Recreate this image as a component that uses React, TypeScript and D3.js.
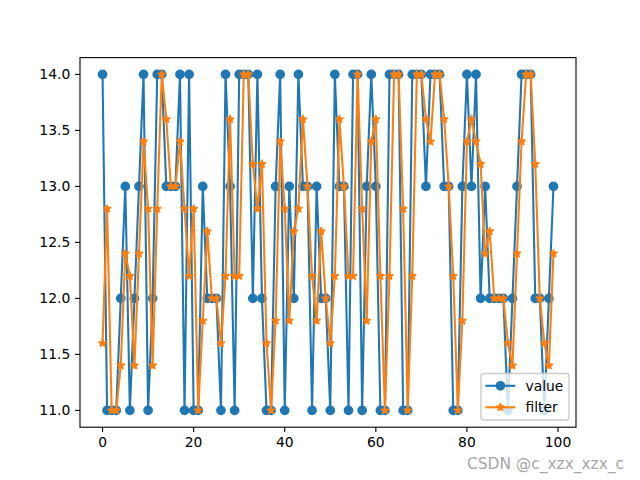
import React, { useEffect, useRef } from "react";
import * as d3 from "d3";

const values: number[] = [
  14, 11, 11, 11, 12, 13, 11, 12, 13, 14,
  11, 12, 14, 14, 13, 13, 13, 14, 11, 14,
  11, 11, 13, 12, 12, 12, 11, 14, 13, 11,
  14, 14, 14, 12, 14, 12, 11, 11, 13, 14,
  11, 13, 12, 14, 13, 13, 11, 13, 12, 12,
  11, 14, 13, 13, 11, 14, 14, 11, 13, 14,
  13, 11, 11, 14, 14, 14, 11, 11, 14, 14,
  14, 13, 14, 14, 14, 13, 13, 11, 11, 13,
  14, 13, 14, 12, 13, 12, 12, 12, 12, 11,
  12, 13, 14, 14, 14, 12, 12, 11, 12, 13,
];

const filterValues: number[] = [
  11.6, 12.8, 11.0, 11.0, 11.4, 12.4, 12.2, 11.4, 12.4, 13.4,
  12.8, 11.4, 12.8, 14.0, 13.6, 13.0, 13.0, 13.4, 12.8, 12.2,
  12.8, 11.0, 11.8, 12.6, 12.0, 12.0, 11.6, 12.2, 13.6, 12.2,
  12.2, 14.0, 14.0, 13.2, 12.8, 13.2, 11.6, 11.0, 11.8, 13.4,
  12.8, 11.8, 12.6, 12.8, 13.6, 13.0, 12.2, 11.8, 12.6, 12.0,
  11.6, 12.2, 13.6, 13.0, 12.2, 12.2, 14.0, 12.8, 11.8, 13.4,
  13.6, 12.2, 11.0, 12.2, 14.0, 14.0, 12.8, 11.0, 12.2, 14.0,
  14.0, 13.6, 13.4, 14.0, 14.0, 13.6, 13.0, 12.2, 11.0, 11.8,
  13.4, 13.6, 13.4, 13.2, 12.4, 12.6, 12.0, 12.0, 12.0, 11.6,
  11.4, 12.4, 13.4, 14.0, 14.0, 13.2, 12.0, 11.6, 11.4, 12.4,
];

const xTicks: number[] = [0, 20, 40, 60, 80, 100];
const yTicks: number[] = [11.0, 11.5, 12.0, 12.5, 13.0, 13.5, 14.0];
const seriesNames: string[] = ["value", "filter"];
const watermark = "CSDN @c_xzx_xzx_c";

const W = 640;
const H = 480;
const PT = 100 / 72;

export default function App() {
  const ref = useRef<SVGSVGElement>(null);

  useEffect(() => {
    const svg = d3.select(ref.current);
    svg.selectAll("*").remove();

    const left = 80, right = 576, top = 57.6, bottom = 427.2;
    const n = values.length;
    const xPad = (n - 1) * 0.05;
    const allY = values.concat(filterValues);
    const yMin = d3.min(allY)!, yMax = d3.max(allY)!;
    const yPad = (yMax - yMin) * 0.05;
    const x = d3.scaleLinear().domain([0 - xPad, n - 1 + xPad]).range([left, right]);
    const y = d3.scaleLinear().domain([yMin - yPad, yMax + yPad]).range([bottom, top]);

    svg.append("rect").attr("x", 0).attr("y", 0).attr("width", W).attr("height", H).attr("fill", "white");

    const font = "DejaVu Sans, sans-serif";
    const fs = 10 * PT;
    const tickLen = 3.5 * PT;

    const clip = svg.append("clipPath").attr("id", "plotclip");
    clip.append("rect").attr("x", left).attr("y", top).attr("width", right - left).attr("height", bottom - top);

    const plot = svg.append("g").attr("clip-path", "url(#plotclip)");

    const colors = ["#1f77b4", "#ff7f0e"];
    const data = [values, filterValues];
    const lw = 1.5 * PT;
    const r = 3 * PT;

    const starPath = (R: number) => {
      const pts: string[] = [];
      const ri = R * 0.381966;
      for (let k = 0; k < 10; k++) {
        const rad = k % 2 === 0 ? R : ri;
        const a = (k * Math.PI) / 5 - Math.PI / 2;
        pts.push(`${(rad * Math.cos(a)).toFixed(3)},${(rad * Math.sin(a)).toFixed(3)}`);
      }
      return "M" + pts.join("L") + "Z";
    };

    const line = d3.line<number>().x((_, i) => x(i)).y((d) => y(d));

    data.forEach((ds, si) => {
      plot.append("path").attr("d", line(ds)!).attr("fill", "none")
        .attr("stroke", colors[si]).attr("stroke-width", lw).attr("stroke-linejoin", "round").attr("stroke-linecap", "square");
      if (si === 0) {
        plot.selectAll(null).data(ds).enter().append("circle")
          .attr("cx", (_, i) => x(i)).attr("cy", (d) => y(d)).attr("r", r)
          .attr("fill", colors[si]).attr("stroke", colors[si]).attr("stroke-width", PT);
      } else {
        const sp = starPath(r);
        plot.selectAll(null).data(ds).enter().append("path")
          .attr("d", sp).attr("transform", (d, i) => `translate(${x(i)},${y(d)})`)
          .attr("fill", colors[si]).attr("stroke", colors[si]).attr("stroke-width", PT).attr("stroke-linejoin", "bevel");
      }
    });

    // axes frame
    svg.append("rect").attr("x", left).attr("y", top).attr("width", right - left).attr("height", bottom - top)
      .attr("fill", "none").attr("stroke", "black").attr("stroke-width", 0.8 * PT);

    // x ticks
    const xg = svg.append("g");
    xTicks.forEach((t) => {
      xg.append("line").attr("x1", x(t)).attr("x2", x(t)).attr("y1", bottom).attr("y2", bottom + tickLen)
        .attr("stroke", "black").attr("stroke-width", 0.8 * PT);
      xg.append("text").attr("x", x(t)).attr("y", bottom + tickLen + 3.5 * PT + fs * 0.76)
        .attr("text-anchor", "middle").attr("font-family", font).attr("font-size", fs).attr("fill", "black").text(String(t));
    });
    const yg = svg.append("g");
    yTicks.forEach((t) => {
      yg.append("line").attr("x1", left - tickLen).attr("x2", left).attr("y1", y(t)).attr("y2", y(t))
        .attr("stroke", "black").attr("stroke-width", 0.8 * PT);
      yg.append("text").attr("x", left - tickLen - 3.5 * PT).attr("y", y(t)).attr("dy", "0.36em")
        .attr("text-anchor", "end").attr("font-family", font).attr("font-size", fs).attr("fill", "black").text(t.toFixed(1));
    });

    // legend
    const lx = 481, ly = 373.5, lwid = 88, lh = 46.5;
    const lg = svg.append("g");
    lg.append("rect").attr("x", lx).attr("y", ly).attr("width", lwid).attr("height", lh).attr("rx", 2.8).attr("ry", 2.8)
      .attr("fill", "white").attr("fill-opacity", 0.8).attr("stroke", "#cccccc").attr("stroke-width", PT);
    seriesNames.forEach((name, si) => {
      const cy = ly + 12.3 + si * 21.5;
      lg.append("line").attr("x1", lx + 5.5).attr("x2", lx + 33.3).attr("y1", cy).attr("y2", cy)
        .attr("stroke", colors[si]).attr("stroke-width", lw).attr("stroke-linecap", "square");
      if (si === 0) {
        lg.append("circle").attr("cx", lx + 19.4).attr("cy", cy).attr("r", r).attr("fill", colors[si])
          .attr("stroke", colors[si]).attr("stroke-width", PT);
      } else {
        lg.append("path").attr("d", starPath(r)).attr("transform", `translate(${lx + 19.4},${cy})`)
          .attr("fill", colors[si]).attr("stroke", colors[si]).attr("stroke-width", PT).attr("stroke-linejoin", "bevel");
      }
      lg.append("text").attr("x", lx + 44.5).attr("y", cy).attr("dy", "0.36em")
        .attr("font-family", font).attr("font-size", fs).attr("fill", "black").text(name);
    });

    // watermark
    svg.append("text").attr("x", 467).attr("y", 468.5).attr("font-family", font).attr("font-size", 16)
      .attr("fill", "#9a9a9a").attr("fill-opacity", 0.9).attr("textLength", 157).attr("lengthAdjust", "spacingAndGlyphs").text(watermark);
  }, []);

  return (
    <svg ref={ref} width={W} height={H} style={{ position: "absolute", left: 0, top: 0 }} />
  );
}
